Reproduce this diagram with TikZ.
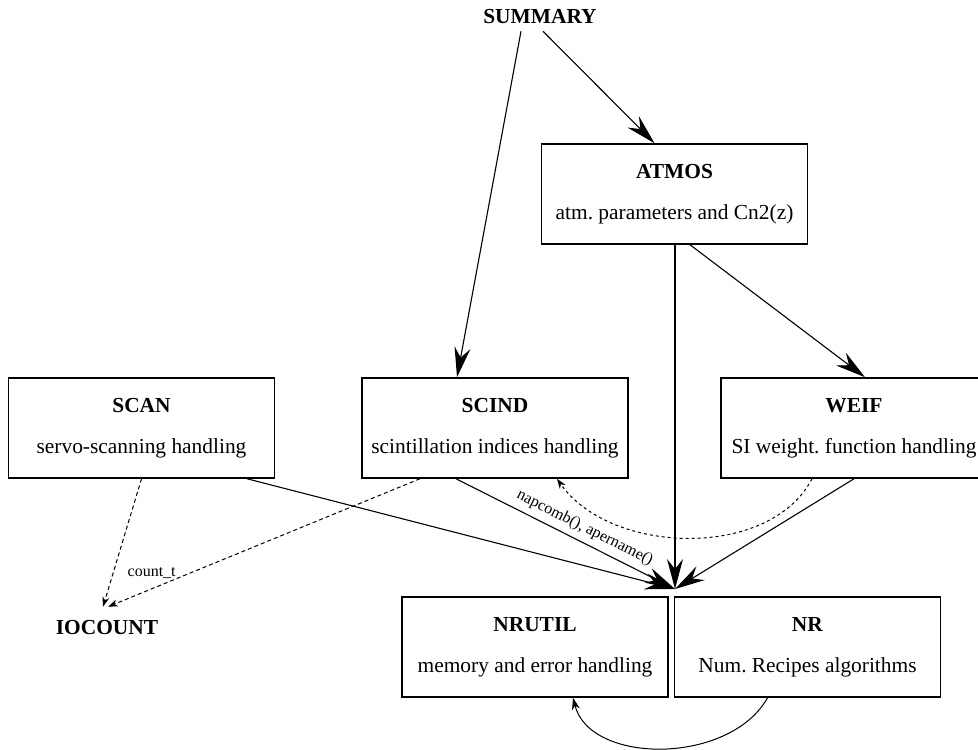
\documentclass[tikz,border=0pt]{standalone}
\usepackage{fontspec}
\setmainfont{Liberation Serif}
\usetikzlibrary{arrows.meta}
\frenchspacing

\begin{document}
\begin{tikzpicture}[x=0.5pt, y=-0.5pt,
	every node/.style={font=\fontsize{10.7pt}{20.5pt}\selectfont},
	modbox/.style={draw, line width=0.75pt, minimum width=133pt, minimum height=50pt, inner sep=0pt, align=center},
	extname/.style={font=\fontsize{10.7pt}{13pt}\selectfont\bfseries},
	callarrow/.style={line width=0.55pt, -{Stealth[length=15pt, width=8pt, inset=5pt]}},
	dataarrow/.style={line width=0.5pt, dash pattern=on 2pt off 1.5pt, -{Stealth[length=5pt, width=3.5pt]}},
	fnlabel/.style={font=\fontsize{8pt}{9pt}\selectfont, inner sep=1pt}]
	\useasboundingbox (0,0) rectangle (978,749);
	
	% Top level
	\node[extname] (summary) at (540,17) {SUMMARY};
	\node[modbox] (atmos) at (674.5,194) {\textbf{ATMOS}\\atm. parameters and Cn2(z)};
	
	% Middle row
	\node[modbox] (scan) at (141.5,428) {\textbf{SCAN}\\servo-scanning handling};
	\node[modbox] (scind) at (495,428) {\textbf{SCIND}\\scintillation indices handling};
	\node[modbox] (weif) at (854,428) {\textbf{WEIF}\\SI weight. function handling};
	
	% Bottom row
	\node[extname] (iocount) at (107,628) {IOCOUNT};
	\node[modbox] (nrutil) at (535,647) {\textbf{NRUTIL}\\memory and error handling};
	\node[modbox] (nr) at (807.5,647) {\textbf{NR}\\Num. Recipes algorithms};
	\coordinate (hub) at (675,589);
	
	% Calls
	\draw[callarrow] ([xshift=-9.5pt]summary.south) -- ([xshift=-19pt]scind.north);
	\draw[callarrow] ([xshift=1.5pt]summary.south) -- ([xshift=-10pt]atmos.north);
	\draw[callarrow] (atmos.south -| hub) -- (hub);
	\draw[callarrow] ([xshift=7.75pt]atmos.south) -- ([xshift=5.5pt]weif.north);
	\draw[callarrow] ([xshift=52.75pt]scan.south) -- (hub);
	\draw[callarrow] ([xshift=-19.5pt]scind.south) -- node[fnlabel, sloped, above=2pt, pos=0.56] {napcomb(), apername()} (hub);
	\draw[callarrow] (weif.south) -- (hub);
	\draw[line width=0.5pt, -{Stealth[length=6pt, width=4pt]}] ([xshift=-20pt]nr.south) .. controls (730,765) and (590,765) .. ([xshift=19pt]nrutil.south);
	
	% Data links
	\draw[dataarrow] (scan.south) -- ([xshift=-2pt, yshift=3.5pt]iocount.north);
	\draw[dataarrow] ([xshift=-37.5pt]scind.south) -- node[fnlabel, pos=0.86, above=4pt] {count\_t} ([xshift=0.5pt, yshift=3.5pt]iocount.north);
	\draw[dataarrow, dash pattern=on 1.5pt off 1.5pt] ([xshift=-21pt]weif.south) .. controls (770,560) and (610,555) .. ([xshift=31pt]scind.south);
\end{tikzpicture}
\end{document}
